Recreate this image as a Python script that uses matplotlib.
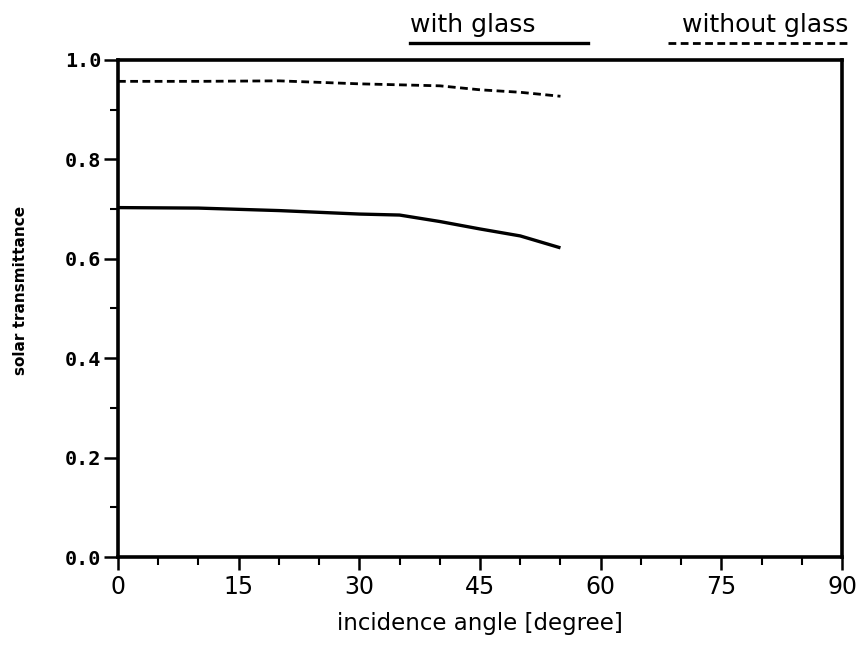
import numpy as np
import matplotlib
matplotlib.use('Agg')
import matplotlib.pyplot as plt
from matplotlib.ticker import MultipleLocator
from matplotlib.lines import Line2D

plt.rcParams['font.family'] = ['DejaVu Sans']

# data
angle_with = [0, 10, 20, 30, 35, 40, 45, 50, 55]
trans_with = [0.703, 0.702, 0.697, 0.690, 0.688, 0.675, 0.660, 0.646, 0.622]
angle_without = [0, 10, 20, 30, 35, 40, 45, 50, 55]
trans_without = [0.957, 0.957, 0.958, 0.952, 0.950, 0.948, 0.940, 0.935, 0.927]

xticks = [0, 15, 30, 45, 60, 75, 90]
yticks = [0.0, 0.2, 0.4, 0.6, 0.8, 1.0]

fig = plt.figure(figsize=(8.67, 6.47), dpi=100)
ax = fig.add_axes([0.1361, 0.1391, 0.8351, 0.7682])

dash = (0, (2.8, 1.6))
ax.plot(angle_with, trans_with, color='black', lw=2.4, solid_capstyle='butt')
ax.plot(angle_without, trans_without, color='black', lw=2.0, linestyle=dash)

ax.set_xlim(0, 90)
ax.set_ylim(0, 1.0)
ax.set_xticks(xticks)
ax.set_yticks(yticks)
ax.set_yticklabels(['0.0', '0.2', '0.4', '0.6', '0.8', '1.0'],
                   family='DejaVu Sans Mono', fontweight='bold', fontsize=14.5)
ax.set_xticklabels([str(v) for v in xticks], fontsize=17)
ax.xaxis.set_minor_locator(MultipleLocator(5))
ax.yaxis.set_minor_locator(MultipleLocator(0.1))

ax.tick_params(axis='y', which='major', direction='out', length=10, width=1.8, pad=2)
ax.tick_params(axis='x', which='major', direction='out', length=9, width=1.8, pad=4)
ax.tick_params(which='minor', direction='out', length=6, width=1.5)
ax.tick_params(top=False, right=False)
for s in ax.spines.values():
    s.set_linewidth(2.6)

ax.set_xlabel('incidence angle [degree]', fontsize=16.5)
ax.xaxis.set_label_coords(0.5, -0.111)
ax.set_ylabel('solar transmittance', fontsize=11, fontweight='bold')
ax.yaxis.set_label_coords(-0.124, 0.537)

# legend drawn above the plot frame
fig.text(410 / 867, 1 - 32 / 647, 'with glass', fontsize=18, ha='left', va='baseline')
fig.add_artist(Line2D([410 / 867, 588 / 867], [1 - 43 / 647, 1 - 43 / 647],
                      color='black', lw=2.4))
fig.text(848 / 867, 1 - 32 / 647, 'without glass', fontsize=18, ha='right', va='baseline')
fig.add_artist(Line2D([668 / 867, 848 / 867], [1 - 43 / 647, 1 - 43 / 647],
                      color='black', lw=2.0, linestyle=dash))

fig.savefig('out.png', dpi=100)
